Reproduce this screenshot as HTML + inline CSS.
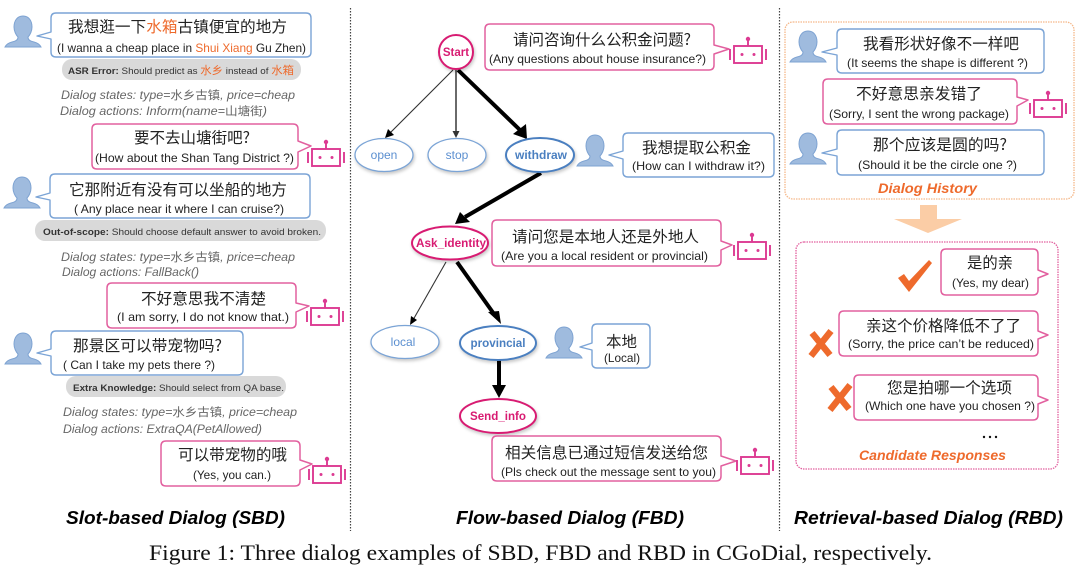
<!DOCTYPE html>
<html><head><meta charset="utf-8">
<style>
html,body{margin:0;padding:0;background:#fff;width:1080px;height:573px;overflow:hidden}
svg{display:block;filter:blur(0.35px)}
text{font-family:"Liberation Sans","Noto Sans CJK SC",sans-serif;fill:#222;white-space:pre}
.c{font-size:15.5px;font-family:"Noto Sans CJK SC","Liberation Sans",sans-serif}
.e{font-size:12px}
.g{font-size:9.5px;fill:#333}
.d{font-size:11.5px;font-style:italic;fill:#666;font-family:"Liberation Sans","Noto Sans CJK SC",sans-serif}
.z{font-style:normal;font-family:"Noto Sans CJK SC",sans-serif}
.t{font-size:18px;font-weight:bold;font-style:italic;fill:#000}
.o{fill:#ee6a2c}
.n{font-size:11.5px;font-weight:bold;text-anchor:middle}
.h{font-size:14px;font-weight:bold;font-style:italic;fill:#ee6a2c}
.b{fill:#fff;stroke:#7ba4d6;stroke-width:1.4;stroke-linejoin:round}
.p{fill:#fff;stroke:#e2609f;stroke-width:1.5;stroke-linejoin:round}
.pill{fill:#d9d9d9}
.s{filter:drop-shadow(1px 2px 1.5px rgba(0,0,0,.22))}
</style></head><body>
<svg width="1080" height="573" viewBox="0 0 1080 573" xmlns="http://www.w3.org/2000/svg">
<defs>
<g id="r" fill="none" stroke="#dc3a92" stroke-width="1.900">
<rect x="-14" y="9" width="28" height="17"/>
<path d="M0 9V3M-18 12V23M18 12V23"/>
<circle cx="0" cy="2" r="2.200" fill="#dc3a92" stroke="none"/>
<circle cx="-6" cy="17.500" r="1.500" fill="#dc3a92" stroke="none"/>
<circle cx="6" cy="17.500" r="1.500" fill="#dc3a92" stroke="none"/>
</g>
<g id="u">
<path d="M18 0C12 0 9 5 9 11C9 15 11 19 13 21C13 24 11 25 7 26C3 27 1 29 0 31H36C35 29 33 27 29 26C25 25 23 24 23 21C25 19 27 15 27 11C27 5 24 0 18 0Z" fill="#9fbbde" stroke="#7ea3d2" stroke-width="1"/>
</g>
</defs>

<!-- separators -->
<path d="M350.500 8V531M779.500 8V531" stroke="#444" stroke-width="1.200" stroke-dasharray="1.500 1.500" fill="none"/>

<!-- LEFT PANEL -->
<use href="#u" x="5" y="16"/>
<path class="b" d="M56 13H306Q311 13 311 18V52Q311 57 306 57H56Q51 57 51 52V39L37 36L51 32V18Q51 13 56 13Z"/>
<text class="c" x="68" y="32" textLength="219" lengthAdjust="spacingAndGlyphs">我想逛一下<tspan class="o">水箱</tspan>古镇便宜的地方</text>
<text class="e" x="57" y="52" textLength="249" lengthAdjust="spacingAndGlyphs">(I wanna a cheap place in <tspan class="o">Shui Xiang</tspan> Gu Zhen)</text>
<rect class="pill" x="62" y="59" width="239" height="21" rx="10"/>
<text class="g" x="68" y="74" textLength="226" lengthAdjust="spacingAndGlyphs"><tspan font-weight="bold">ASR Error:</tspan> Should predict as <tspan class="o" font-size="11">水乡</tspan> instead of <tspan class="o" font-size="11">水箱</tspan></text>
<text class="d" x="61" y="99" textLength="234" lengthAdjust="spacingAndGlyphs">Dialog states: type=<tspan class="z">水乡古镇</tspan>, price=cheap</text>
<text class="d" x="60" y="115" textLength="207" lengthAdjust="spacingAndGlyphs">Dialog actions: Inform(name=<tspan class="z">山塘街</tspan>)</text>

<path class="p" d="M97 124H293Q298 124 298 129V141L311 146L298 152V164Q298 169 293 169H97Q92 169 92 164V129Q92 124 97 124Z"/>
<text class="c" x="134" y="143" textLength="116" lengthAdjust="spacingAndGlyphs">要不去山塘街吧?</text>
<text class="e" x="95" y="162" textLength="199" lengthAdjust="spacingAndGlyphs">(How about the Shan Tang District ?)</text>
<use href="#r" x="326" y="140"/>

<use href="#u" x="4" y="177"/>
<path class="b" d="M55 174H305Q310 174 310 179V213Q310 218 305 218H55Q50 218 50 213V200L36 197L50 193V179Q50 174 55 174Z"/>
<text class="c" x="69" y="195" textLength="218" lengthAdjust="spacingAndGlyphs">它那附近有没有可以坐船的地方</text>
<text class="e" x="74" y="213" textLength="210" lengthAdjust="spacingAndGlyphs">( Any place near it where I can cruise?)</text>
<rect class="pill" x="35" y="220" width="291" height="21" rx="10"/>
<text class="g" x="43" y="235" textLength="278" lengthAdjust="spacingAndGlyphs"><tspan font-weight="bold">Out-of-scope:</tspan> Should choose default answer to avoid broken.</text>
<text class="d" x="61" y="261" textLength="234" lengthAdjust="spacingAndGlyphs">Dialog states: type=<tspan class="z">水乡古镇</tspan>, price=cheap</text>
<text class="d" x="62" y="276" textLength="137" lengthAdjust="spacingAndGlyphs">Dialog actions: FallBack()</text>

<path class="p" d="M112 283H291Q296 283 296 288V303L309 306L296 312V323Q296 328 291 328H112Q107 328 107 323V288Q107 283 112 283Z"/>
<text class="c" x="141" y="304" textLength="125" lengthAdjust="spacingAndGlyphs">不好意思我不清楚</text>
<text class="e" x="117" y="321" textLength="172" lengthAdjust="spacingAndGlyphs">(I am sorry, I do not know that.)</text>
<use href="#r" x="325" y="299"/>

<use href="#u" x="5" y="333"/>
<path class="b" d="M56 331H238Q243 331 243 336V370Q243 375 238 375H56Q51 375 51 370V356L37 353L51 349V336Q51 331 56 331Z"/>
<text class="c" x="73" y="351" textLength="149" lengthAdjust="spacingAndGlyphs">那景区可以带宠物吗?</text>
<text class="e" x="63" y="369" textLength="152" lengthAdjust="spacingAndGlyphs">( Can I take my pets there ?)</text>
<rect class="pill" x="66" y="376" width="220" height="21" rx="10"/>
<text class="g" x="73" y="391" textLength="211" lengthAdjust="spacingAndGlyphs"><tspan font-weight="bold">Extra Knowledge:</tspan> Should select from QA base.</text>
<text class="d" x="63" y="416" textLength="234" lengthAdjust="spacingAndGlyphs">Dialog states: type=<tspan class="z">水乡古镇</tspan>, price=cheap</text>
<text class="d" x="63" y="433" textLength="199" lengthAdjust="spacingAndGlyphs">Dialog actions: ExtraQA(PetAllowed)</text>

<path class="p" d="M166 441H295Q300 441 300 446V460L312 464L300 470V481Q300 486 295 486H166Q161 486 161 481V446Q161 441 166 441Z"/>
<text class="c" x="178" y="460" textLength="109" lengthAdjust="spacingAndGlyphs">可以带宠物的哦</text>
<text class="e" x="193" y="479" textLength="78" lengthAdjust="spacingAndGlyphs">(Yes, you can.)</text>
<use href="#r" x="327" y="457"/>
<text class="t" x="66" y="524" textLength="219" lengthAdjust="spacingAndGlyphs">Slot-based Dialog (SBD)</text>

<!-- MIDDLE PANEL: connectors -->
<g stroke="#000" fill="#000">
<path d="M453 70L390 133" stroke-width="1.100" fill="none" stroke="#333"/>
<path d="M385 138L388 129L394 135Z" stroke="none"/>
<path d="M456 70V132" stroke-width="1.600" stroke="#444" fill="none"/>
<path d="M456 138L452.500 131H459.500Z" stroke="none" fill="#333"/>
<path d="M458 70L520 130" stroke-width="4" fill="none"/>
<path d="M527 139L513 134L526 124Z" stroke="none"/>
<path d="M541 173L465 217" stroke-width="4" fill="none"/>
<path d="M455 224L460 212L470 222Z" stroke="none"/>
<path d="M446 262L413 320" stroke-width="1.100" fill="none" stroke="#333"/>
<path d="M410 325L411 316L417 320Z" stroke="none"/>
<path d="M457 262L494 314" stroke-width="4" fill="none"/>
<path d="M501 324L488 312L499 311Z" stroke="none"/>
<path d="M499 360V388" stroke-width="4" fill="none"/>
<path d="M499 398L492 385H506Z" stroke="none"/>
</g>

<!-- nodes -->
<circle class="s" cx="456" cy="52" r="17" fill="#fff" stroke="#d81b72" stroke-width="2"/>
<text class="n" x="456" y="56" style="fill:#d81b72">Start</text>
<ellipse class="s" cx="384" cy="155" rx="29" ry="16.500" fill="#fff" stroke="#7ba4d6" stroke-width="1.300"/>
<text class="n" x="384" y="159" style="fill:#5b8fd0;font-weight:normal;font-size:12px">open</text>
<ellipse class="s" cx="457" cy="155" rx="29" ry="16.500" fill="#fff" stroke="#7ba4d6" stroke-width="1.300"/>
<text class="n" x="457" y="159" style="fill:#5b8fd0;font-weight:normal;font-size:12px">stop</text>
<ellipse class="s" cx="540" cy="155" rx="34" ry="17" fill="#fff" stroke="#4a7fc0" stroke-width="2"/>
<text class="n" x="541" y="159" style="fill:#4a7fc0" textLength="52" lengthAdjust="spacingAndGlyphs">withdraw</text>
<ellipse class="s" cx="450" cy="243" rx="38" ry="16.500" fill="#fff" stroke="#d81b72" stroke-width="2"/>
<text class="n" x="451" y="247" style="fill:#d81b72" textLength="70" lengthAdjust="spacingAndGlyphs">Ask_identity</text>
<ellipse class="s" cx="405" cy="342" rx="34" ry="16.500" fill="#fff" stroke="#7ba4d6" stroke-width="1.300"/>
<text class="n" x="403" y="346" style="fill:#5b8fd0;font-weight:normal;font-size:12px">local</text>
<ellipse class="s" cx="498" cy="343" rx="38" ry="17" fill="#fff" stroke="#4a7fc0" stroke-width="2"/>
<text class="n" x="498" y="347" style="fill:#4a7fc0" textLength="55" lengthAdjust="spacingAndGlyphs">provincial</text>
<ellipse class="s" cx="498" cy="416" rx="38" ry="17" fill="#fff" stroke="#d81b72" stroke-width="2"/>
<text class="n" x="498" y="420" style="fill:#d81b72" textLength="56" lengthAdjust="spacingAndGlyphs">Send_info</text>

<!-- middle bubbles -->
<path class="p" d="M490 24H709Q714 24 714 29V45L729 49L714 54V65Q714 70 709 70H490Q485 70 485 65V29Q485 24 490 24Z"/>
<text class="c" x="513" y="45" textLength="178" lengthAdjust="spacingAndGlyphs">请问咨询什么公积金问题?</text>
<text class="e" x="489" y="63" textLength="217" lengthAdjust="spacingAndGlyphs">(Any questions about house insurance?)</text>
<use href="#r" x="748" y="37"/>

<use href="#u" x="577" y="135"/>
<path class="b" d="M628 133H769Q774 133 774 138V172Q774 177 769 177H628Q623 177 623 172V159L609 155L623 151V138Q623 133 628 133Z"/>
<text class="c" x="642" y="153" textLength="109" lengthAdjust="spacingAndGlyphs">我想提取公积金</text>
<text class="e" x="632" y="170" textLength="133" lengthAdjust="spacingAndGlyphs">(How can I withdraw it?)</text>

<path class="p" d="M497 220H716Q721 220 721 225V241L732 245L721 250V261Q721 266 716 266H497Q492 266 492 261V225Q492 220 497 220Z"/>
<text class="c" x="512" y="242" textLength="187" lengthAdjust="spacingAndGlyphs">请问您是本地人还是外地人</text>
<text class="e" x="501" y="260" textLength="207" lengthAdjust="spacingAndGlyphs">(Are you a local resident or provincial)</text>
<use href="#r" x="752" y="233"/>

<use href="#u" x="546" y="327"/>
<path class="b" d="M597 324H645Q650 324 650 329V363Q650 368 645 368H597Q592 368 592 363V350L580 347L592 343V329Q592 324 597 324Z"/>
<text class="c" x="606" y="347" textLength="31" lengthAdjust="spacingAndGlyphs">本地</text>
<text class="e" x="604" y="362" textLength="36" lengthAdjust="spacingAndGlyphs">(Local)</text>

<path class="p" d="M497 436H716Q721 436 721 441V456L736 461L721 466V476Q721 481 716 481H497Q492 481 492 476V441Q492 436 497 436Z"/>
<text class="c" x="505" y="458" textLength="203" lengthAdjust="spacingAndGlyphs">相关信息已通过短信发送给您</text>
<text class="e" x="501" y="476" textLength="215" lengthAdjust="spacingAndGlyphs">(Pls check out the message sent to you)</text>
<use href="#r" x="755" y="448"/>
<text class="t" x="456" y="524" textLength="228" lengthAdjust="spacingAndGlyphs">Flow-based Dialog (FBD)</text>

<!-- RIGHT PANEL -->
<rect x="785" y="22" width="289" height="177" rx="8" fill="#fff" stroke="#f5b88a" stroke-width="1.300" stroke-dasharray="1.500 1"/>
<use href="#u" x="790" y="31"/>
<path class="b" d="M842 29H1039Q1044 29 1044 34V68Q1044 73 1039 73H842Q837 73 837 68V55L822 52L837 48V34Q837 29 842 29Z"/>
<text class="c" x="863" y="49" textLength="156" lengthAdjust="spacingAndGlyphs">我看形状好像不一样吧</text>
<text class="e" x="847" y="67" textLength="181" lengthAdjust="spacingAndGlyphs">(It seems the shape is different ?)</text>

<path class="p" d="M828 79H1012Q1017 79 1017 84V97L1028 100L1017 106V119Q1017 124 1012 124H828Q823 124 823 119V84Q823 79 828 79Z"/>
<text class="c" x="856" y="99" textLength="126" lengthAdjust="spacingAndGlyphs">不好意思亲发错了</text>
<text class="e" x="829" y="118" textLength="180" lengthAdjust="spacingAndGlyphs">(Sorry, I sent the wrong package)</text>
<use href="#r" x="1048" y="91"/>

<use href="#u" x="790" y="133"/>
<path class="b" d="M842 130H1039Q1044 130 1044 135V170Q1044 175 1039 175H842Q837 175 837 170V156L822 153L837 149V135Q837 130 842 130Z"/>
<text class="c" x="873" y="150" textLength="134" lengthAdjust="spacingAndGlyphs">那个应该是圆的吗?</text>
<text class="e" x="858" y="169" textLength="159" lengthAdjust="spacingAndGlyphs">(Should it be the circle one ?)</text>
<text class="h" x="878" y="193" textLength="99" lengthAdjust="spacingAndGlyphs">Dialog History</text>

<path d="M920 205H937V219H962L928 233L894 219H920Z" fill="#fbcda6"/>

<rect x="796" y="242" width="262" height="227" rx="8" fill="#fff" stroke="#e2609f" stroke-width="1.300" stroke-dasharray="1.500 1"/>
<path class="p" d="M946 249H1033Q1038 249 1038 254V270L1048 274L1038 278V290Q1038 295 1033 295H946Q941 295 941 290V254Q941 249 946 249Z"/>
<text class="c" x="967" y="268" textLength="46" lengthAdjust="spacingAndGlyphs">是的亲</text>
<text class="e" x="952" y="287" textLength="77" lengthAdjust="spacingAndGlyphs">(Yes, my dear)</text>
<path d="M898 278L904 274L909 281L929 260L932 263L909 292Z" fill="#ee6a2c"/>

<path class="p" d="M844 311H1033Q1038 311 1038 316V331L1048 335L1038 339V351Q1038 356 1033 356H844Q839 356 839 351V316Q839 311 844 311Z"/>
<text class="c" x="866" y="331" textLength="155" lengthAdjust="spacingAndGlyphs">亲这个价格降低不了了</text>
<text class="e" x="848" y="348" textLength="186" lengthAdjust="spacingAndGlyphs">(Sorry, the price can’t be reduced)</text>
<path d="M811 356L831 331M812 333L830 355" fill="none" stroke="#ee6a2c" stroke-width="6.500"/>

<path class="p" d="M859 375H1033Q1038 375 1038 380V396L1048 400L1038 404V415Q1038 420 1033 420H859Q854 420 854 415V380Q854 375 859 375Z"/>
<text class="c" x="887" y="393" textLength="125" lengthAdjust="spacingAndGlyphs">您是拍哪一个选项</text>
<text class="e" x="865" y="410" textLength="170" lengthAdjust="spacingAndGlyphs">(Which one have you chosen ?)</text>
<path d="M830 410L850 385M831 387L849 409" fill="none" stroke="#ee6a2c" stroke-width="6.500"/>

<circle cx="984" cy="437" r="1.200" fill="#111"/><circle cx="990" cy="437" r="1.200" fill="#111"/><circle cx="996" cy="437" r="1.200" fill="#111"/>
<text class="h" x="859" y="460" textLength="147" lengthAdjust="spacingAndGlyphs">Candidate Responses</text>
<text class="t" x="794" y="524" textLength="269" lengthAdjust="spacingAndGlyphs">Retrieval-based Dialog (RBD)</text>

<!-- caption -->
<text x="149" y="560" textLength="783" lengthAdjust="spacingAndGlyphs" style="font-family:'Liberation Serif',serif;font-size:22px;fill:#111">Figure 1: Three dialog examples of SBD, FBD and RBD in CGoDial, respectively.</text>
</svg>
</body></html>
